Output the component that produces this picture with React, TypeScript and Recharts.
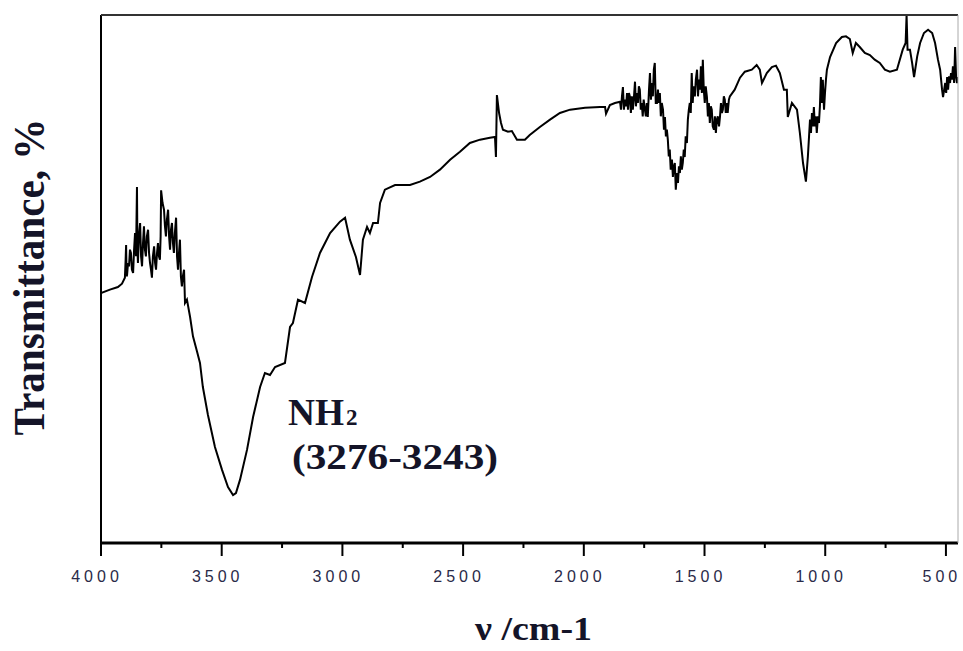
import { LineChart, Line, XAxis, YAxis } from 'recharts'

// wavenumber (cm-1) and transmittance (%)
const wavenumbers = [
  4000, 3963, 3930, 3913, 3901, 3898, 3896, 3894, 3892, 3888, 3884, 3880, 3876, 3872, 3867,
  3863, 3859, 3855, 3851, 3849, 3847, 3843, 3838, 3834, 3830, 3826, 3822, 3818, 3814, 3810,
  3805, 3801, 3797, 3793, 3789, 3785, 3780, 3776, 3772, 3768, 3764, 3760, 3756, 3753, 3751,
  3745, 3739, 3735, 3731, 3727, 3722, 3718, 3714, 3710, 3706, 3702, 3698, 3694, 3689, 3685,
  3681, 3677, 3673, 3669, 3665, 3661, 3656, 3652, 3644, 3631, 3619, 3602, 3590, 3578, 3557,
  3528, 3499, 3474, 3453, 3441, 3424, 3395, 3370, 3341, 3321, 3300, 3279, 3238, 3217, 3205,
  3184, 3155, 3126, 3093, 3051, 3010, 2989, 2969, 2944, 2927, 2915, 2898, 2886, 2873, 2853,
  2844, 2824, 2782, 2720, 2679, 2637, 2596, 2554, 2513, 2472, 2430, 2389, 2368, 2364, 2360,
  2351, 2343, 2335, 2314, 2298, 2277, 2244, 2224, 2182, 2140, 2099, 2057, 1995, 1933, 1912,
  1908, 1892, 1871, 1850, 1846, 1842, 1838, 1834, 1830, 1825, 1821, 1817, 1813, 1809, 1805,
  1801, 1797, 1793, 1788, 1784, 1780, 1776, 1772, 1768, 1764, 1760, 1756, 1752, 1747, 1743,
  1739, 1735, 1730, 1726, 1722, 1718, 1714, 1710, 1706, 1702, 1697, 1693, 1689, 1685, 1681,
  1677, 1672, 1668, 1664, 1660, 1656, 1652, 1648, 1644, 1640, 1635, 1631, 1627, 1623, 1619,
  1614, 1610, 1606, 1602, 1598, 1594, 1590, 1586, 1582, 1578, 1573, 1569, 1565, 1561, 1557,
  1553, 1549, 1545, 1540, 1536, 1531, 1527, 1523, 1519, 1515, 1511, 1507, 1503, 1499, 1495,
  1490, 1486, 1482, 1478, 1474, 1470, 1466, 1461, 1457, 1453, 1449, 1445, 1440, 1436, 1432,
  1428, 1424, 1420, 1416, 1412, 1408, 1404, 1399, 1395, 1375, 1353, 1333, 1304, 1284, 1271,
  1262, 1242, 1221, 1204, 1188, 1171, 1159, 1155, 1138, 1117, 1105, 1092, 1080, 1072, 1063,
  1059, 1055, 1051, 1047, 1043, 1039, 1035, 1030, 1026, 1022, 1018, 1014, 1010, 1005, 1001,
  997, 993, 980, 955, 931, 914, 898, 886, 873, 857, 836, 815, 795, 774, 753,
  732, 703, 679, 667, 663, 659, 649, 640, 632, 619, 607, 591, 574, 557, 545,
  533, 524, 516, 512, 503, 499, 495, 491, 487, 483, 479, 475, 471, 466, 462,
  458, 454, 450,
]

const transmittance = [
  57.5, 58.0, 58.4, 58.9, 59.8, 62.5, 64.7, 60.0, 60.2, 62.0, 61.5, 64.0, 63.5, 61.0, 60.5,
  64.0, 66.5, 63.0, 73.4, 64.0, 62.0, 66.0, 68.0, 63.0, 61.5, 65.0, 67.5, 64.0, 63.0, 66.0,
  67.0, 63.5, 62.0, 61.0, 59.8, 63.0, 64.5, 62.0, 61.0, 63.5, 65.0, 63.0, 62.5, 66.0, 72.9,
  71.0, 70.0, 67.5, 66.0, 68.5, 70.0, 66.0, 64.0, 67.0, 68.0, 65.0, 63.5, 66.5, 68.8, 63.0,
  61.0, 63.5, 65.5, 60.0, 58.5, 60.0, 61.0, 56.0, 56.5, 53.9, 51.0, 48.7, 47.0, 43.4, 39.2,
  34.4, 31.0, 28.4, 27.2, 27.5, 29.5, 34.0, 38.9, 43.4, 45.5, 45.2, 46.4, 47.0, 52.4, 53.0,
  56.5, 56.0, 59.9, 63.5, 66.5, 68.2, 68.8, 65.5, 62.9, 60.2, 65.5, 67.4, 66.5, 68.0, 68.0,
  71.0, 73.0, 73.7, 73.7, 74.2, 74.9, 76.0, 77.5, 78.7, 80.0, 80.5, 80.8, 80.9, 77.9, 87.2,
  84.5, 83.0, 82.0, 81.7, 81.8, 80.5, 80.5, 81.2, 82.4, 83.5, 84.5, 85.0, 85.3, 85.4, 85.4,
  84.4, 85.7, 86.0, 86.2, 85.0, 87.0, 88.4, 85.0, 86.5, 85.5, 87.5, 85.0, 87.5, 86.9, 84.5,
  87.0, 85.0, 86.5, 89.2, 85.5, 87.5, 86.0, 88.5, 88.0, 85.0, 86.0, 84.0, 86.5, 85.0, 84.0,
  86.0, 83.9, 88.0, 90.5, 86.5, 89.0, 87.0, 91.0, 92.0, 86.0, 86.0, 88.0, 86.0, 87.5, 84.0,
  86.0, 85.0, 82.0, 83.9, 81.0, 82.0, 80.5, 78.0, 79.0, 76.0, 77.5, 74.9, 76.5, 77.0, 73.0,
  75.5, 74.0, 76.5, 75.5, 78.0, 76.0, 77.0, 79.0, 77.9, 81.0, 80.0, 83.5, 85.0, 86.0, 84.5,
  90.5, 86.0, 88.5, 87.0, 89.5, 91.0, 87.0, 89.5, 88.0, 91.5, 87.5, 92.5, 88.0, 86.0, 88.5,
  86.9, 84.0, 86.0, 83.0, 85.5, 85.0, 82.5, 82.0, 84.0, 81.5, 83.5, 84.0, 82.5, 83.9, 86.0,
  84.5, 85.0, 87.0, 86.5, 84.5, 86.0, 84.5, 86.5, 87.0, 88.0, 89.8, 90.7, 91.0, 91.7, 91.0,
  89.0, 90.5, 91.4, 91.6, 90.5, 88.0, 88.0, 83.9, 86.0, 85.0, 81.5, 77.0, 74.2, 77.9, 83.5,
  81.5, 84.5, 82.5, 85.4, 82.5, 84.0, 81.5, 84.0, 83.0, 85.5, 89.9, 86.0, 89.5, 85.0, 87.5,
  89.5, 91.0, 92.9, 95.0, 95.9, 96.0, 95.6, 93.5, 95.0, 94.4, 93.5, 93.2, 92.5, 92.0, 91.0,
  90.7, 91.0, 94.0, 95.0, 99.2, 94.0, 94.0, 92.0, 89.9, 93.0, 95.0, 96.5, 97.0, 96.5, 95.0,
  92.5, 91.0, 88.0, 86.9, 89.0, 87.5, 89.9, 88.0, 90.0, 89.0, 90.5, 89.5, 91.5, 89.0, 94.4,
  90.0, 89.0, 89.9,
]

const xTicks = [4000, 3750, 3500, 3250, 3000, 2750, 2500, 2250, 2000, 1750, 1500, 1250, 1000, 750, 500]
const yTicks = [20, 25, 30, 35, 40, 45, 50, 55, 60, 65, 70, 75, 80, 85, 90, 95]

const datos = wavenumbers.map((w, i) => ({ w, t: transmittance[i] }))

const W = 963
const H = 651
const textColor = '#141428'

function XTick({ x, y, payload }: any) {
  const major = payload.value % 500 === 0
  return (
    <g>
      <line x1={x} x2={x} y1={y} y2={y + (major ? 13 : 5)} stroke="#000" strokeWidth={2} />
      {major && (
        <text
          x={x - 4}
          y={y + 39}
          textAnchor="middle"
          fontFamily="Liberation Sans, Arial, sans-serif"
          fontSize={16}
          letterSpacing={4}
          fill="#2a2a48"
        >
          {payload.value}
        </text>
      )}
    </g>
  )
}

export default function App() {
  return (
    <div style={{ position: 'absolute', left: 0, top: 0, width: W, height: H, background: '#fff' }}>
      <LineChart width={W} height={H} data={datos} margin={{ top: 15, right: 5, bottom: 78, left: 61 }}>
        <XAxis
          dataKey="w"
          type="number"
          domain={[450, 4000]}
          reversed
          allowDataOverflow
          ticks={xTicks}
          interval={0}
          height={30}
          tickSize={0}
          tickMargin={0}
          tickLine={false}
          axisLine={{ stroke: '#000', strokeWidth: 3 }}
          tick={<XTick />}
        />
        <YAxis
          type="number"
          domain={[20, 99.2]}
          allowDataOverflow
          ticks={yTicks}
          interval={0}
          width={40}
          tickSize={4}
          tick={false}
          tickLine={{ stroke: '#000', strokeWidth: 1.5 }}
          axisLine={{ stroke: '#000', strokeWidth: 2 }}
        />
        <Line
          type="linear"
          dataKey="t"
          stroke="#000"
          strokeWidth={2}
          dot={false}
          isAnimationActive={false}
        />
      </LineChart>
      <svg
        width={W}
        height={H}
        style={{ position: 'absolute', left: 0, top: 0, pointerEvents: 'none' }}
      >
        <line x1={101} x2={958} y1={15} y2={15} stroke="#333" strokeWidth={2} />
        <line x1={958} x2={958} y1={15} y2={543} stroke="#aaa" strokeWidth={1} />
        <text
          transform="translate(44,277) rotate(-90)"
          textAnchor="middle"
          fontFamily="Liberation Serif, Times New Roman, serif"
          fontWeight="bold"
          fontSize={44}
          textLength={317}
          lengthAdjust="spacingAndGlyphs"
          fill={textColor}
        >
          Transmittance, %
        </text>
        <text
          x={288}
          y={425}
          fontFamily="Liberation Serif, Times New Roman, serif"
          fontWeight="bold"
          fontSize={38}
          textLength={56}
          lengthAdjust="spacingAndGlyphs"
          fill={textColor}
        >
          NH
        </text>
        <text
          x={346}
          y={425}
          fontFamily="Liberation Serif, Times New Roman, serif"
          fontWeight="bold"
          fontSize={23}
          fill={textColor}
        >
          2
        </text>
        <text
          x={292}
          y={469}
          fontFamily="Liberation Serif, Times New Roman, serif"
          fontWeight="bold"
          fontSize={36}
          textLength={206}
          lengthAdjust="spacingAndGlyphs"
          fill={textColor}
        >
          (3276-3243)
        </text>
        <text
          x={475}
          y={640}
          fontFamily="Liberation Serif, Times New Roman, serif"
          fontWeight="bold"
          fontSize={33}
          textLength={117}
          lengthAdjust="spacingAndGlyphs"
          fill={textColor}
        >
          ν /cm-1
        </text>
      </svg>
    </div>
  )
}
